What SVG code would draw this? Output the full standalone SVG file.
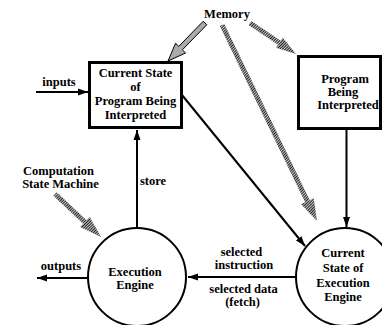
<svg xmlns="http://www.w3.org/2000/svg" width="382" height="325" viewBox="0 0 382 325">
<style>
text{font-family:"Liberation Serif","Times New Roman",serif;font-weight:bold;font-size:12.5px;fill:#000;text-anchor:middle}
.box{fill:#fff;stroke:#000;stroke-width:3}
.circ{fill:#fff;stroke:#000;stroke-width:2}
.ln{stroke:#000;stroke-width:2;fill:none;marker-end:url(#ah)}
.hs{stroke:url(#hatch);stroke-width:5;fill:none}
.hh{fill:url(#hatch)}
</style>
<defs>
<marker id="ah" markerUnits="userSpaceOnUse" markerWidth="11" markerHeight="8" refX="10" refY="4" orient="auto">
<path d="M0,0.5 L10,4 L0,7.5 z" fill="#000"/>
</marker>
<pattern id="hatch" patternUnits="userSpaceOnUse" width="2" height="2" patternTransform="rotate(45)">
<rect x="0" y="0" width="2" height="2" fill="#c8c8c8"/>
<rect x="0" y="0" width="1" height="2" fill="#222"/>
</pattern>
</defs>
<g id="connectors">
<line class="ln" x1="36" y1="92" x2="88" y2="92"/>
<line class="ln" x1="137" y1="228" x2="137" y2="130"/>
<line class="ln" x1="182" y1="95" x2="305" y2="246"/>
<line class="ln" x1="346.5" y1="129" x2="346.5" y2="227"/>
<line class="ln" x1="87" y1="278" x2="37" y2="278"/>
<line class="ln" x1="296" y1="277" x2="188" y2="277"/>
<polygon points="203.2,21.26 178.77,46.36 175.55,43.22 168,61 185.57,52.98 182.35,49.84 206.79,24.74" fill="#aaa" stroke="#000" stroke-width="1"/>
<line class="hs" x1="222" y1="25" x2="307.4" y2="201.2"/>
<polygon class="hh" points="301.1,204.25 317,221 313.7,198.15"/>
<line class="hs" x1="250" y1="23" x2="279.4" y2="42.8"/>
<polygon class="hh" points="276,47.8 296,54 282.8,37.8"/>
<line class="hs" x1="55" y1="194" x2="84.9" y2="222"/>
<polygon class="hh" points="80.1,227.1 101,237 89.7,216.9"/>
<text x="227" y="18">Memory</text>
<text x="59" y="86">inputs</text>
<text x="58.5" y="175">Computation</text>
<text x="60.5" y="188">State Machine</text>
<text x="140" y="185" style="text-anchor:start">store</text>
<text x="61" y="270">outputs</text>
<text x="241.5" y="256">selected</text>
<text x="244" y="269">instruction</text>
<text x="243.5" y="293">selected data</text>
<text x="242.5" y="306">(fetch)</text>
</g>
<g id="node-current-state-program">
<rect class="box" x="89.5" y="62.5" width="92" height="65"/>
<text x="135.5" y="77">Current State</text>
<text x="135.5" y="91">of</text>
<text x="135.5" y="105">Program Being</text>
<text x="135.5" y="119">Interpreted</text>
</g>
<g id="node-program">
<rect class="box" x="298.5" y="56.5" width="82" height="72"/>
<text x="345" y="83">Program</text>
<text x="343" y="96">Being</text>
<text x="348" y="109">Interpreted</text>
</g>
<g id="node-execution-engine">
<circle class="circ" cx="137" cy="277" r="49"/>
<text x="135" y="276">Execution</text>
<text x="135" y="289">Engine</text>
</g>
<g id="node-current-state-engine">
<circle class="circ" cx="345" cy="277" r="49"/>
<text x="343" y="257">Current</text>
<text x="343" y="272">State of</text>
<text x="343" y="287">Execution</text>
<text x="343" y="301">Engine</text>
</g>
</svg>
